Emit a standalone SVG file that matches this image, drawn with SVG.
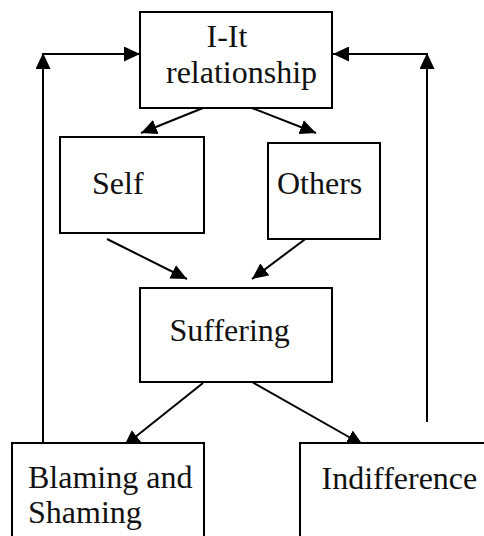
<svg xmlns="http://www.w3.org/2000/svg" width="484" height="536" viewBox="0 0 484 536">
<style>
.box{fill:#fff;stroke:#000;stroke-width:2}
.lbl{font-family:"Liberation Serif","Times New Roman",serif;font-size:32px;fill:#111}
.con{stroke:#000;stroke-width:2;fill:none;marker-end:url(#ah)}
</style>
<defs>
<marker id="ah" markerUnits="userSpaceOnUse" markerWidth="16" markerHeight="15" refX="16" refY="7.5" orient="auto">
<path d="M0,0 L16,7.5 L0,15 z" fill="#000"/>
</marker>
</defs>
<rect width="484" height="536" fill="#fff"/>
<g id="connectors">
<line class="con" x1="43" y1="445" x2="43" y2="53"/>
<line class="con" x1="43" y1="54" x2="140" y2="54"/>
<line class="con" x1="427" y1="422" x2="427" y2="53"/>
<line class="con" x1="427" y1="54" x2="333" y2="54"/>
<line class="con" x1="203" y1="108" x2="141" y2="133"/>
<line class="con" x1="252" y1="108" x2="316" y2="133"/>
<line class="con" x1="107" y1="239" x2="187" y2="279"/>
<line class="con" x1="316" y1="231" x2="252" y2="279"/>
<line class="con" x1="203" y1="383" x2="124" y2="446"/>
<line class="con" x1="252" y1="382" x2="363" y2="445"/>
</g>
<g id="node-iit">
<rect class="box" x="140" y="12" width="192" height="96"/>
<text class="lbl" x="206.5" y="47">I-It</text>
<text class="lbl" x="166" y="83">relationship</text>
</g>
<g id="node-self">
<rect class="box" x="60" y="137" width="144" height="96"/>
<text class="lbl" x="92" y="194">Self</text>
</g>
<g id="node-others">
<rect class="box" x="268" y="143" width="112" height="96"/>
<text class="lbl" x="277" y="194">Others</text>
</g>
<g id="node-suffering">
<rect class="box" x="140" y="288" width="192" height="94"/>
<text class="lbl" x="169.5" y="341">Suffering</text>
</g>
<g id="node-blaming">
<rect class="box" x="12" y="443" width="192" height="110"/>
<text class="lbl" x="28" y="488">Blaming and</text>
<text class="lbl" x="28" y="523">Shaming</text>
</g>
<g id="node-indifference">
<rect class="box" x="300" y="443" width="200" height="110"/>
<text class="lbl" x="321.5" y="489">Indifference</text>
</g>
</svg>
